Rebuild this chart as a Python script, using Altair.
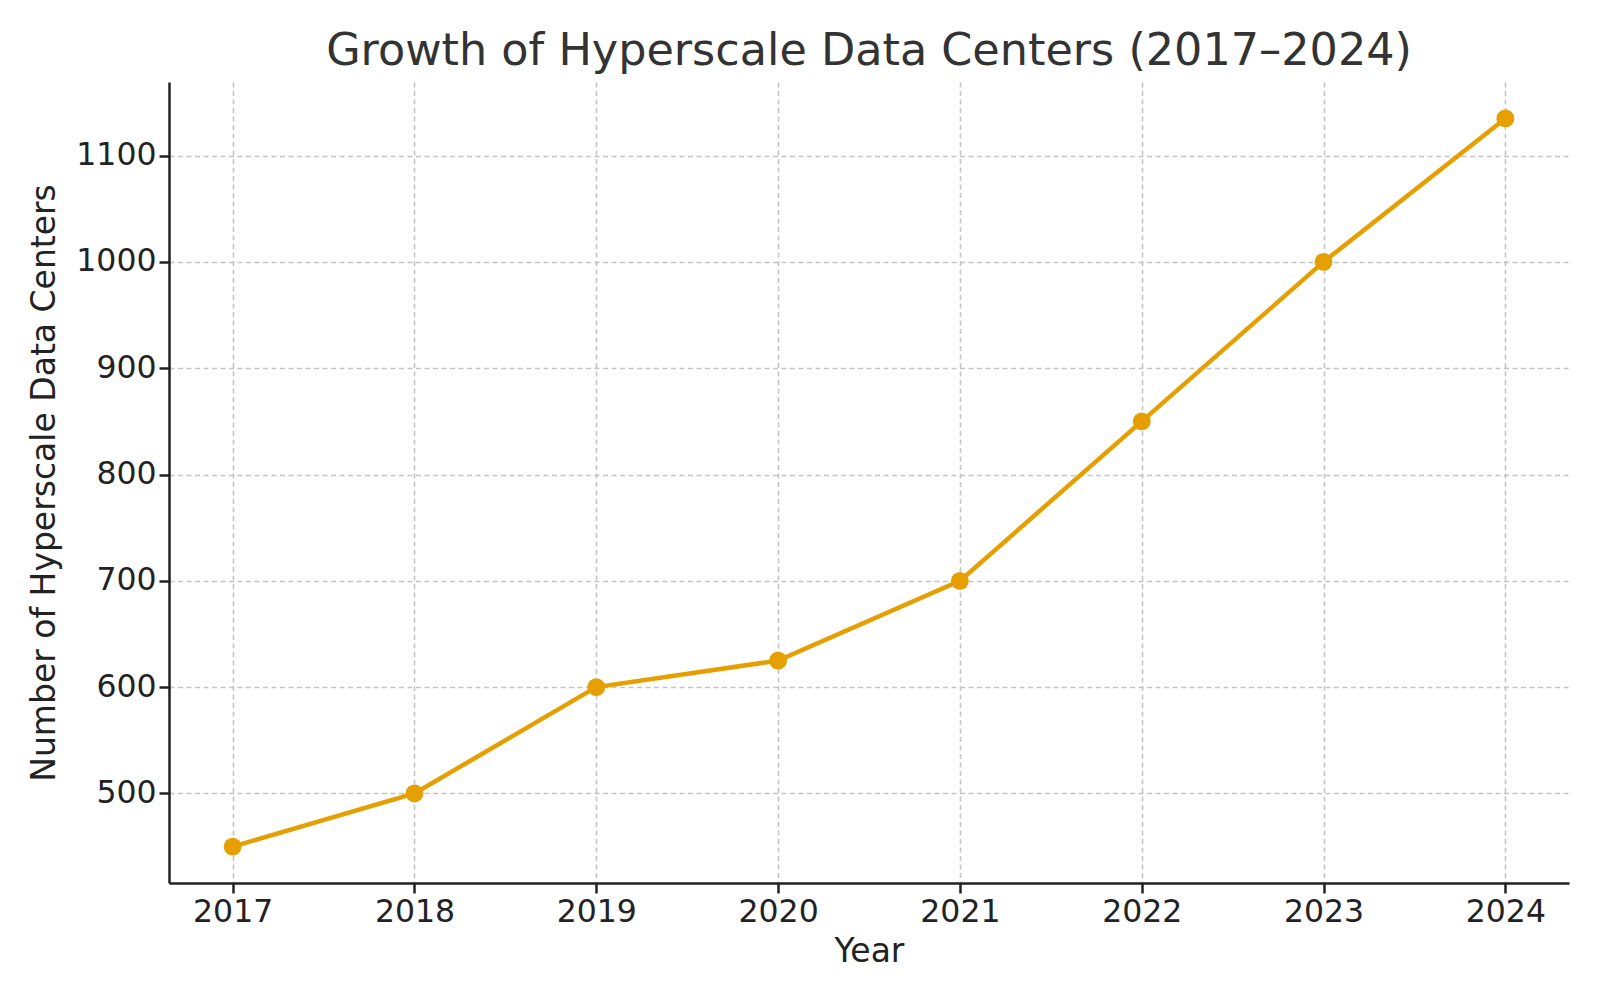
import altair as alt
import pandas as pd

years = [2017, 2018, 2019, 2020, 2021, 2022, 2023, 2024]
centers = [450, 500, 600, 625, 700, 850, 1000, 1135]
y_ticks = [500, 600, 700, 800, 900, 1000, 1100]

df = pd.DataFrame({"Year": years, "Centers": centers})

FONT = "DejaVu Sans"
COLOR = "#E69F00"

x = alt.X(
    "Year:Q",
    scale=alt.Scale(domain=[2016.65, 2024.35], nice=False, zero=False),
    axis=alt.Axis(values=years, format="d", title="Year", labelPadding=3, titlePadding=8),
)
y = alt.Y(
    "Centers:Q",
    scale=alt.Scale(domain=[415.75, 1169.25], nice=False, zero=False),
    axis=alt.Axis(values=y_ticks, format="d", title="Number of Hyperscale Data Centers",
                  labelPadding=3, titlePadding=14),
)

line = alt.Chart(df).mark_line(color=COLOR, strokeWidth=4.5).encode(x=x, y=y)
points = alt.Chart(df).mark_point(color=COLOR, filled=True, opacity=1, size=320).encode(x=x, y=y)

chart = (
    alt.layer(line, points)
    .properties(
        width=1400,
        height=801,
        autosize=alt.AutoSizeParams(type="none"),
        padding={"left": 161, "top": 74, "right": 22, "bottom": 109},
        title=alt.TitleParams(
            "Growth of Hyperscale Data Centers (2017–2024)",
            font=FONT,
            fontSize=44.5,
            fontWeight="normal",
            color="#333333",
            anchor="middle",
            offset=8,
        ),
    )
    .configure_view(stroke=None)
    .configure_axis(
        labelFont=FONT,
        titleFont=FONT,
        labelFontSize=31.5,
        titleFontSize=33,
        titleFontWeight="normal",
        labelColor="#222222",
        titleColor="#222222",
        domainColor="#222222",
        domainWidth=2.5,
        tickColor="#222222",
        tickWidth=2.5,
        tickSize=10,
        grid=True,
        gridColor="#c4c4c4",
        gridWidth=1.6,
        gridDash=[5, 3.5],
        labelFlush=False,
    )
)

chart.save("out.html", embed_options={"renderer": "svg", "actions": False})
